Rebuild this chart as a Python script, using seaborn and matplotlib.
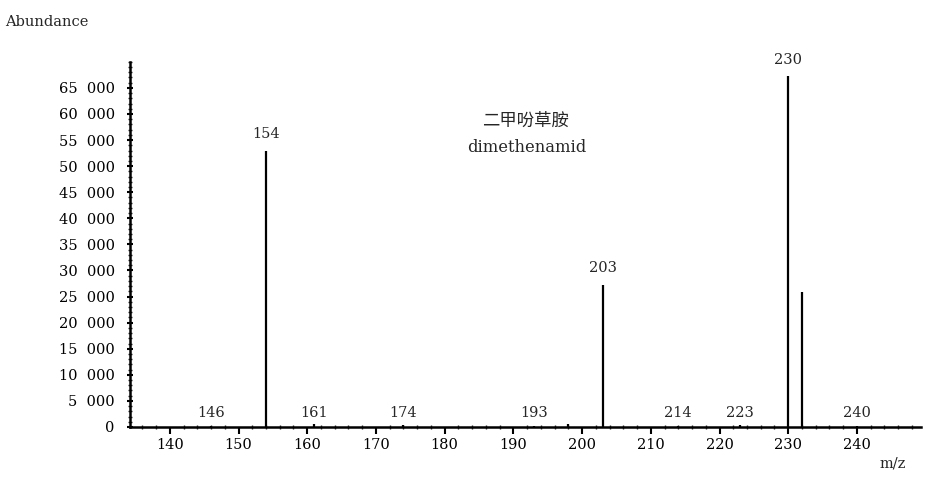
import matplotlib
matplotlib.use("Agg")
import matplotlib.pyplot as plt
from matplotlib.ticker import FuncFormatter, MultipleLocator
import pandas as pd
import seaborn as sns

# Mass spectrum of dimethenamid (m/z vs abundance)
mz = [146, 154, 161, 174, 193, 198, 203, 214, 223, 230, 232, 240]
abundance = [250, 53000, 600, 300, 250, 500, 27200, 200, 350, 67200, 25900, 200]

# Peaks that carry an m/z label, split by label size/placement
major_labels = [154, 203, 230]
minor_labels = [146, 161, 174, 193, 214, 223, 240]

y_ticks = list(range(0, 65001, 5000))
x_ticks = list(range(140, 241, 10))

df = pd.DataFrame({"mz": mz, "abundance": abundance})

sns.set_theme(style="ticks")
plt.rcParams["font.family"] = ["DejaVu Serif", "Noto Sans CJK SC"]

fig = plt.figure(figsize=(9.25, 4.83), dpi=100)
ax = fig.add_axes([0.1405, 0.116, 0.855, 0.756])

ax.vlines(df["mz"], 0, df["abundance"], color="black", linewidth=1.6)

ax.set_xlim(134.2, 249.3)
ax.set_ylim(0, 70000)
ax.set_xticks(x_ticks)
ax.set_yticks(y_ticks)
ax.xaxis.set_minor_locator(MultipleLocator(2))
ax.yaxis.set_minor_locator(MultipleLocator(1000))
ax.yaxis.set_major_formatter(
    FuncFormatter(lambda v, _: f"{int(v):,}".replace(",", "  ")))

sns.despine(ax=ax)
for side in ("left", "bottom"):
    ax.spines[side].set_linewidth(1.8)
    ax.spines[side].set_color("black")

ax.tick_params(axis="x", which="major", direction="out", length=5, width=1.5,
               labelsize=10.5, pad=3, colors="black")
ax.tick_params(axis="x", which="minor", direction="inout", length=3, width=1)
ax.tick_params(axis="y", which="major", direction="inout", length=4, width=1.5,
               labelsize=10.5, pad=9, colors="black")
ax.tick_params(axis="y", which="minor", direction="inout", length=2.5, width=1)

lookup = dict(zip(mz, abundance))
for m in major_labels:
    ax.annotate(str(m), (m, lookup[m]), xytext=(0, 7), textcoords="offset points",
                ha="center", va="bottom", fontsize=10.5)
for m in minor_labels:
    ax.annotate(str(m), (m, 0), xytext=(0, 5), textcoords="offset points",
                ha="center", va="bottom", fontsize=10.5)

ax.text(0.5, 0.838, "二甲吩草胺", transform=ax.transAxes, ha="center",
        va="center", fontsize=12.5)
ax.text(0.502, 0.764, "dimethenamid", transform=ax.transAxes, ha="center",
        va="center", fontsize=11.8)

fig.text(0.005, 0.955, "Abundance", ha="left", va="center", fontsize=10.5)
fig.text(0.951, 0.04, "m/z", ha="left", va="center", fontsize=10.5)

fig.savefig("out.png", dpi=100, facecolor="white")
